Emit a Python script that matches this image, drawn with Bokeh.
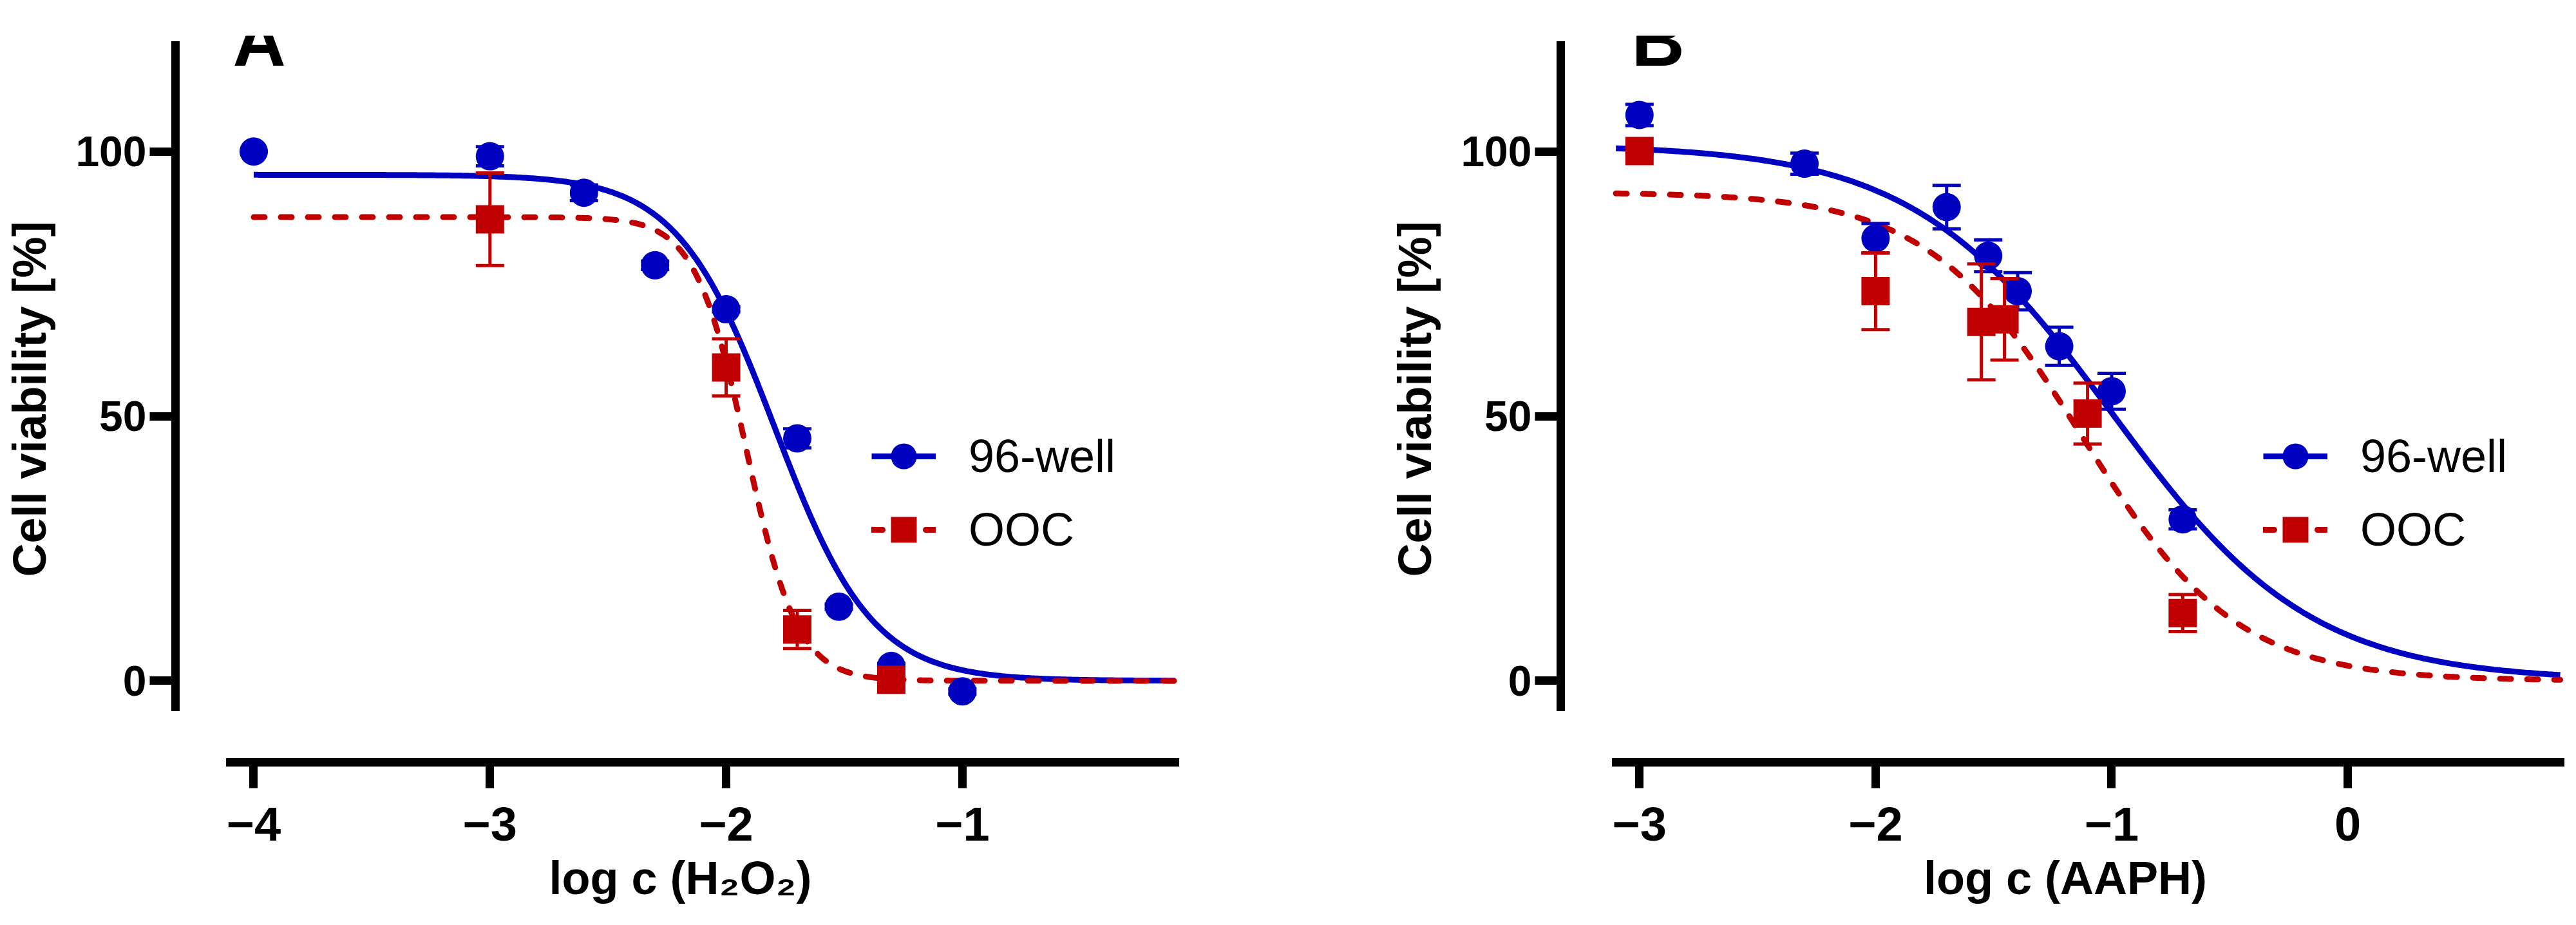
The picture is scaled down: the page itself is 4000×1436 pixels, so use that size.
import numpy as np
from bokeh.plotting import figure
from bokeh.models import Range1d, FixedTicker, Label, Legend, LegendItem
from bokeh.layouts import row
from bokeh.embed import file_html
from bokeh.resources import INLINE

# ---------------- data ----------------
# Panel A: H2O2
A_x_96 = [-4.0, -3.0, -2.602, -2.301, -2.0, -1.699, -1.523, -1.301, -1.0]
A_y_96 = [100.0, 99.1, 92.2, 78.5, 70.2, 45.8, 14.0, 2.8, -2.0]
A_e_96 = [0.0, 1.8, 1.5, 0.8, 0.5, 1.8, 0.5, 0.5, 0.5]

A_x_ooc = [-3.0, -2.0, -1.699, -1.301]
A_y_ooc = [87.2, 59.2, 9.7, 0.2]
A_e_ooc = [8.75, 5.4, 3.6, 0.5]

# Panel B: AAPH
B_x_96 = [-3.0, -2.301, -2.0, -1.699, -1.523, -1.398, -1.222, -1.0, -0.699]
B_y_96 = [106.9, 97.7, 83.6, 89.5, 80.3, 73.6, 63.2, 54.7, 30.5]
B_e_96 = [2.0, 2.0, 2.8, 4.1, 3.0, 3.5, 3.6, 3.4, 1.8]

B_x_ooc = [-3.0, -2.0, -1.552, -1.454, -1.102, -0.699]
B_y_ooc = [100.1, 73.6, 67.8, 68.3, 50.5, 12.8]
B_e_ooc = [0.5, 7.25, 10.95, 7.7, 5.75, 3.5]

# fitted 4-parameter logistic curves (top, bottom, logIC50, hill), estimated from the drawn curves
A_fit_96 = (95.6, 0.0, -1.794, 2.1)
A_fit_ooc = (87.6, 0.0, -1.915, 4.0)
B_fit_96 = (101.3, 0.0, -1.0, 1.03)
B_fit_ooc = (92.3, 0.0, -1.125, 1.33)
A_curve_span = (-4.0, -0.1)
B_curve_span = (-3.1, 0.9)

A_xticks = [-4, -3, -2, -1]
B_xticks = [-3, -2, -1, 0]
y_ticks = [0, 50, 100]
series_labels = ["96-well", "OOC"]
A_xlabel = "log c (H\u2082O\u2082)"
B_xlabel = "log c (AAPH)"
y_label = "Cell viability [%]"

BLUE = "#0000C0"
RED = "#C00000"
FONT = "Liberation Sans"
H = 1428


def logistic(xs, fit):
    top, bottom, c, h = fit
    xs = np.asarray(xs)
    return bottom + (top - bottom) / (1.0 + 10.0 ** ((xs - c) * h))


def minus(v):
    return ("\u2212" + str(abs(v))) if v < 0 else str(v)


def panel(letter, width, mbl, mbr, xr, xbounds, xticks, xlabel,
          d96, dooc, fit96, fitooc, span, legend_x, letter_x):
    p = figure(width=width, height=H, x_range=Range1d(*xr),
               y_range=Range1d(-15.41, 121.87), output_backend="svg",
               toolbar_location=None, min_border_left=mbl, min_border_right=mbr,
               min_border_top=55, min_border_bottom=H - 1183)
    p.outline_line_color = None
    p.grid.visible = False
    p.background_fill_color = "white"
    p.border_fill_color = "white"

    for ax in (p.xaxis[0], p.yaxis[0]):
        ax.axis_line_width = 13
        ax.axis_line_cap = "square"
        ax.axis_line_color = "black"
        ax.major_tick_line_width = 13
        ax.major_tick_line_color = "black"
        ax.major_tick_out = 40
        ax.major_tick_in = 0
        ax.minor_tick_out = 0
        ax.minor_tick_in = 0
        ax.major_label_text_font = FONT
        ax.major_label_text_font_style = "bold"
        ax.major_label_text_color = "black"
        ax.axis_label_text_font = FONT
        ax.axis_label_text_font_style = "bold"
        ax.axis_label_text_font_size = "72px"
        ax.axis_label_text_color = "black"

    xa = p.xaxis[0]
    xa.bounds = xbounds
    xa.ticker = FixedTicker(ticks=xticks)
    xa.major_label_overrides = {t: minus(t) for t in xticks}
    xa.major_label_text_font_size = "74px"
    xa.major_label_standoff = 29
    xa.axis_label = xlabel
    xa.axis_label_standoff = 15

    ya = p.yaxis[0]
    ya.bounds = (-5, 120)
    ya.ticker = FixedTicker(ticks=y_ticks)
    ya.major_label_text_font_size = "66px"
    ya.major_label_standoff = 5
    ya.axis_label = y_label
    ya.axis_label_standoff = 28

    xs = np.linspace(span[0], span[1], 500)
    bl = p.line(xs, logistic(xs, fit96), line_color=BLUE, line_width=9)
    rl = p.line(xs, logistic(xs, fitooc), line_color=RED, line_width=9,
                line_dash="17 25", line_cap="round")

    rends = {}
    for key, (x, y, e), col, mk in (("96", d96, BLUE, "circle"), ("ooc", dooc, RED, "square")):
        x = np.asarray(x); y = np.asarray(y); e = np.asarray(e)
        p.segment(x0=x, y0=y - e, x1=x, y1=y + e, line_color=col, line_width=5)
        p.rect(x=np.concatenate([x, x]), y=np.concatenate([y + e, y - e]),
               width=44, height=5, width_units="screen", height_units="screen",
               fill_color=col, line_color=None)
        rends[key] = p.scatter(x, y, marker=mk, size=44, fill_color=col, line_color=None)

    legend = Legend(items=[LegendItem(label=series_labels[0], renderers=[bl, rends["96"]]),
                           LegendItem(label=series_labels[1], renderers=[rl, rends["ooc"]])],
                    location=(legend_x, 306), glyph_width=100, glyph_height=110,
                    label_height=110, label_standoff=51, spacing=4, padding=0, margin=0,
                    border_line_color=None, background_fill_alpha=0,
                    label_text_font=FONT, label_text_font_size="72px",
                    label_text_color="black")
    p.add_layout(legend)

    p.add_layout(Label(x=letter_x, y=1121, x_units="screen", y_units="screen",
                       text=letter, text_font=FONT, text_font_style="bold",
                       text_font_size="114px", text_color="black",
                       text_baseline="alphabetic", text_align="left"))
    return p


pA = panel("A", 2008, 272, 168, (-4.3312, -0.0564), (-4.1, -0.1), A_xticks, A_xlabel,
           (A_x_96, A_y_96, A_e_96), (A_x_ooc, A_y_ooc, A_e_ooc),
           A_fit_96, A_fit_ooc, A_curve_span, 1081, 89)
pB = panel("B", 1984, 415, 2, (-3.3336, 0.9409), (-3.1, 0.9), B_xticks, B_xlabel,
           (B_x_96, B_y_96, B_e_96), (B_x_ooc, B_y_ooc, B_e_ooc),
           B_fit_96, B_fit_ooc, B_curve_span, 1091, 110)

layout = row(pA, pB)
open("out.html", "w").write(file_html(layout, INLINE))
